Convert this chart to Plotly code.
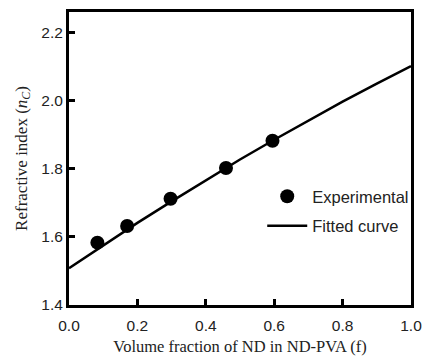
import plotly.graph_objects as go

exp_f = [0.083, 0.170, 0.297, 0.459, 0.595]
exp_n = [1.583, 1.632, 1.712, 1.802, 1.882]

# Fitted curve samples
fit_f = [0.0, 0.1, 0.2, 0.3, 0.4, 0.5, 0.6, 0.7, 0.8, 0.9, 1.0]
fit_n = [1.508, 1.575, 1.641, 1.704, 1.766, 1.827, 1.885, 1.942, 1.997, 2.050, 2.101]

x_ticks = [0.0, 0.2, 0.4, 0.6, 0.8, 1.0]
x_tick_labels = ["0.0", "0.2", "0.4", "0.6", "0.8", "1.0"]
y_ticks = [1.4, 1.6, 1.8, 2.0, 2.2]
y_tick_labels = ["1.4", "1.6", "1.8", "2.0", "2.2"]

fig = go.Figure()
fig.add_trace(go.Scatter(
    x=exp_f, y=exp_n, mode="markers", name="Experimental", legendgroup="a",
    marker=dict(color="black", size=14),
))
fig.add_trace(go.Scatter(
    x=fit_f, y=fit_n, mode="lines", name="Fitted curve", legendgroup="b",
    line=dict(color="black", width=2.5),
))

axis_common = dict(
    showgrid=False, zeroline=False, showline=True, linecolor="black",
    linewidth=3, mirror=True, ticks="inside", ticklen=6, tickwidth=2.5,
    tickcolor="black", ticklabeloverflow="allow", automargin=False,
    tickfont=dict(family="Liberation Sans, Arial, sans-serif", size=15.5, color="#222"),
)

fig.update_layout(
    width=425, height=356,
    margin=dict(l=69, r=11, t=12, b=51),
    paper_bgcolor="white", plot_bgcolor="white",
    showlegend=True,
    legend=dict(
        x=0.565, y=0.43, xanchor="left", yanchor="top",
        bgcolor="rgba(0,0,0,0)",
        font=dict(family="Liberation Sans, Arial, sans-serif", size=16.5, color="#222"),
        tracegroupgap=5, itemwidth=40,
    ),
    xaxis=dict(
        range=[0, 1], tickvals=x_ticks, ticktext=x_tick_labels,
        ticklabelstandoff=4,
        title=dict(text="Volume fraction of ND in ND-PVA (f)",
                   font=dict(family="Liberation Serif, Times New Roman, serif", size=16.5, color="#222"),
                   standoff=9),
        **axis_common,
    ),
    yaxis=dict(
        range=[1.4, 2.26], tickvals=y_ticks, ticktext=y_tick_labels,
        title=dict(text="Refractive index (<i>n</i><sub><i>C</i></sub>)",
                   font=dict(family="Liberation Serif, Times New Roman, serif", size=17, color="#222"),
                   standoff=10),
        **axis_common,
    ),
)

fig.write_html("out.html")
